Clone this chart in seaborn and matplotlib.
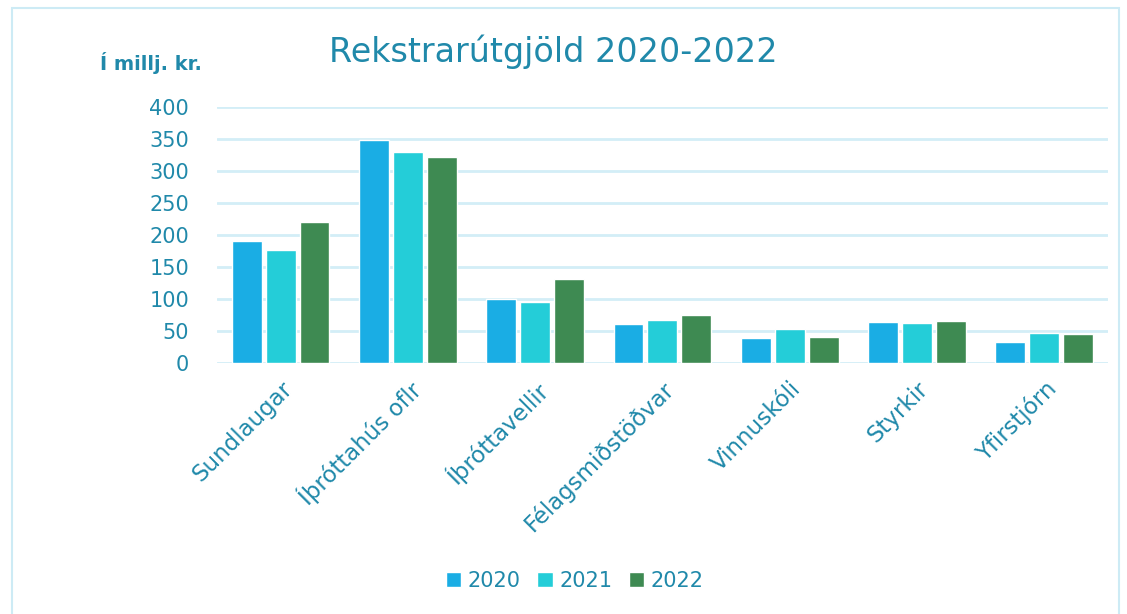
import pandas as pd
import matplotlib.pyplot as plt
import seaborn as sns
from matplotlib.patches import Rectangle

# Data (millions of ISK)
categories = ["Sundlaugar", "Íþróttahús oflr", "Íþróttavellir", "Félagsmiðstöðvar",
              "Vinnuskóli", "Styrkir", "Yfirstjórn"]
years = ["2020", "2021", "2022"]
values_2020 = [191, 348, 100, 61, 39, 64, 33]
values_2021 = [177, 330, 95, 67, 53, 62, 47]
values_2022 = [220, 322, 131, 75, 41, 66, 45]

df = pd.DataFrame({
    "Flokkur": categories * 3,
    "Ár": [y for y in years for _ in categories],
    "Upphæð": values_2020 + values_2021 + values_2022,
})

text_color = "#2089AA"
grid_color = "#D3EEF7"
palette = {"2020": "#1AADE4", "2021": "#24CDD8", "2022": "#3E8A52"}

sns.set_style("white")
plt.rcParams["font.family"] = ["DejaVu Sans"]

fig = plt.figure(figsize=(11.27, 6.14), dpi=100)
ax = fig.add_axes([0.1925, 0.4088, 0.7905, 0.4169])

sns.barplot(data=df, x="Flokkur", y="Upphæð", hue="Ár", palette=palette,
            saturation=1, width=0.8, gap=0.12, ax=ax, legend=True, zorder=3)

ax.set_ylim(0, 400)
ax.set_yticks(range(0, 401, 50))
ax.set_xlim(-0.5, len(categories) - 0.5)
ax.yaxis.grid(True, color=grid_color, linewidth=2, zorder=0)
ax.set_axisbelow(True)
sns.despine(ax=ax, left=True, bottom=True)
ax.set_xlabel("")
ax.set_ylabel("")
ax.tick_params(axis="both", length=0, colors=text_color, labelsize=15)
ax.tick_params(axis="y", pad=20)
plt.setp(ax.get_xticklabels(), rotation=45, ha="right", rotation_mode="anchor",
         fontsize=16.5)
ax.tick_params(axis="x", pad=10)

# Legend at bottom
handles, labels = ax.get_legend_handles_labels()
ax.legend_.remove()
fig.legend(handles, labels, loc="center", bbox_to_anchor=(0.51, 0.054), ncol=3,
           frameon=False, fontsize=15, labelcolor=text_color, handlelength=0.75,
           handleheight=0.75, handletextpad=0.3, columnspacing=0.8)

fig.text(0.491, 0.916, "Rekstrarútgjöld 2020-2022", ha="center", va="center",
         fontsize=24, color=text_color)
fig.text(0.134, 0.897, "Í millj. kr.", ha="center", va="center",
         fontsize=14, fontweight="bold", color=text_color)

# light frame around the chart
fig.patches.append(Rectangle((0.011, -0.02), 0.982, 1.007, transform=fig.transFigure,
                             fill=False, edgecolor="#CDEBF5", linewidth=1.5))

fig.savefig("out.png", dpi=100)
